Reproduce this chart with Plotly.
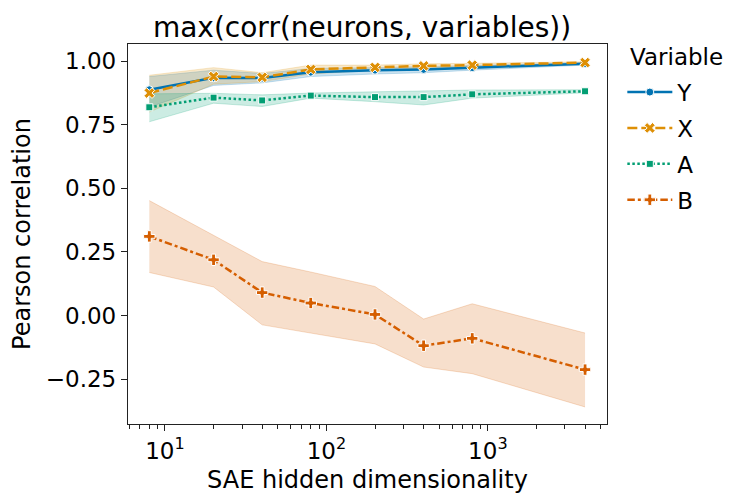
import plotly.graph_objects as go

dims = [8, 20, 40, 80, 200, 400, 800, 4000]
variables = ["Y", "X", "A", "B"]

y_mean = [0.888, 0.935, 0.934, 0.957, 0.965, 0.968, 0.975, 0.990]
y_lo   = [0.820, 0.905, 0.915, 0.940, 0.950, 0.955, 0.965, 0.985]
y_hi   = [0.940, 0.965, 0.952, 0.972, 0.975, 0.978, 0.983, 0.995]

x_mean = [0.875, 0.940, 0.937, 0.968, 0.976, 0.982, 0.985, 0.995]
x_lo   = [0.800, 0.910, 0.920, 0.950, 0.965, 0.972, 0.978, 0.990]
x_hi   = [0.945, 0.975, 0.955, 0.985, 0.985, 0.990, 0.992, 0.998]

a_mean = [0.819, 0.857, 0.846, 0.865, 0.859, 0.859, 0.870, 0.882]
a_lo   = [0.762, 0.835, 0.822, 0.855, 0.841, 0.828, 0.855, 0.876]
a_hi   = [0.872, 0.874, 0.868, 0.875, 0.880, 0.884, 0.887, 0.888]

b_mean = [0.311, 0.219, 0.090, 0.049, 0.004, -0.119, -0.090, -0.213]
b_lo   = [0.169, 0.112, -0.037, -0.069, -0.112, -0.203, -0.229, -0.360]
b_hi   = [0.452, 0.317, 0.212, 0.171, 0.114, -0.014, 0.046, -0.069]

means = [y_mean, x_mean, a_mean, b_mean]
lows = [y_lo, x_lo, a_lo, b_lo]
highs = [y_hi, x_hi, a_hi, b_hi]

colors = ["#0173b2", "#de8f05", "#029e73", "#d55e00"]
rgb = [(1, 115, 178), (222, 143, 5), (2, 158, 115), (213, 94, 0)]
dashes = ["solid", "10px,4px", "2.5px,2.5px", "7.5px,3px,3px,3px"]
symbols = ["circle", "x", "square", "cross"]
msizes = [8, 9.5, 7, 9.5]

fig = go.Figure()

# confidence bands first (beneath all lines)
for i, v in enumerate(variables):
    r, g, b = rgb[i]
    edge = f"rgba({r},{g},{b},0.2)"
    fill = f"rgba({r},{g},{b},0.2)"
    fig.add_trace(go.Scatter(x=dims, y=lows[i], mode="lines",
                             line=dict(color=edge, width=1),
                             showlegend=False, hoverinfo="skip"))
    fig.add_trace(go.Scatter(x=dims, y=highs[i], mode="lines",
                             line=dict(color=edge, width=1),
                             fill="tonexty", fillcolor=fill,
                             showlegend=False, hoverinfo="skip"))

for i, v in enumerate(variables):
    fig.add_trace(go.Scatter(
        x=dims, y=means[i], mode="lines+markers", name=v,
        legendgroup=v,
        line=dict(color=colors[i], width=2.5, dash=dashes[i]),
        marker=dict(symbol=symbols[i], size=msizes[i], color=colors[i],
                    line=dict(color="white", width=1)),
    ))

minor_vals = [m * 10 ** e for e in range(0, 4) for m in range(2, 10)]

font_family = "DejaVu Sans"
axis_color = "#222222"

W, H = 739, 495
ML, MR, MT, MB = 120, 140.3, 36, 78.7

fig.update_layout(
    width=W, height=H,
    margin=dict(l=ML, r=MR, t=MT, b=MB, autoexpand=False),
    paper_bgcolor="white", plot_bgcolor="white",
    font=dict(family=font_family, size=23, color="black"),
    title=dict(text="max(corr(neurons, variables))",
               x=354 / W, xref="container", xanchor="center",
               y=1 - 19 / H, yref="container", yanchor="middle",
               font=dict(size=28, family=font_family, color="black")),
    legend=dict(
        x=1.032, xanchor="left", y=0.93, yanchor="top",
        font=dict(size=23), tracegroupgap=3,
        bgcolor="rgba(0,0,0,0)", itemwidth=45,
    ),
    annotations=[dict(text="Variable", xref="paper", yref="paper",
                      x=1.0445, y=0.9658, xanchor="left", yanchor="middle",
                      showarrow=False, font=dict(size=23, color="black"))],
    xaxis=dict(
        type="log", range=[0.771, 3.738], automargin=False,
        showgrid=False, zeroline=False,
        showline=True, linecolor=axis_color, linewidth=1.3, mirror=True,
        ticks="outside", ticklen=6, tickwidth=1.2, tickcolor=axis_color,
        tickvals=[10, 100, 1000],
        ticktext=["10<sup>1</sup>", "10<sup>2</sup>", "10<sup>3</sup>"],
        tickfont=dict(size=23),
        minor=dict(ticks="outside", ticklen=3.5, tickwidth=1, tickcolor=axis_color,
                   tickvals=minor_vals, showgrid=False),
        title=dict(text="SAE hidden dimensionality", font=dict(size=24), standoff=8),
    ),
    yaxis=dict(
        range=[-0.427, 1.068], automargin=False,
        showgrid=False, zeroline=False,
        showline=True, linecolor=axis_color, linewidth=1.3, mirror=True,
        ticks="outside", ticklen=6, tickwidth=1.2, tickcolor=axis_color,
        tickvals=[-0.25, 0.0, 0.25, 0.5, 0.75, 1.0], tickformat=".2f",
        tickfont=dict(size=23),
        title=dict(text="Pearson correlation", font=dict(size=24), standoff=12),
    ),
)

fig.write_html("out.html")
